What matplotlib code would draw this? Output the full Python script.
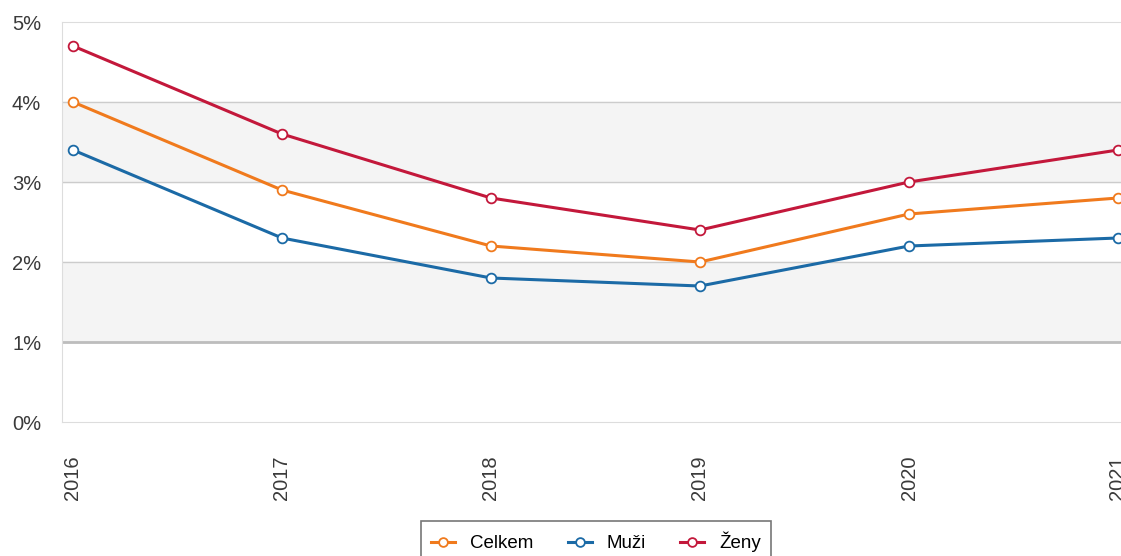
import matplotlib.pyplot as plt
from matplotlib.ticker import FuncFormatter

years = [2016, 2017, 2018, 2019, 2020, 2021]
celkem = [4.0, 2.9, 2.2, 2.0, 2.6, 2.8]
muzi = [3.4, 2.3, 1.8, 1.7, 2.2, 2.3]
zeny = [4.7, 3.6, 2.8, 2.4, 3.0, 3.4]

plt.rcParams["font.family"] = ["Liberation Sans", "DejaVu Sans"]

W, H = 1121, 556
fig = plt.figure(figsize=(W / 100, H / 100), dpi=100)
ax = fig.add_axes([62 / W, (H - 422) / H, (W - 62) / W, 400 / H])

# alternating bands
for lo in (1, 3):
    ax.axhspan(lo, lo + 1, color="#f4f4f4", zorder=0)
for v in (2, 3, 4):
    ax.axhline(v, color="#cccccc", lw=1, zorder=1)
ax.axhline(1, color="#bdbdbd", lw=2, zorder=1)

series = [("Celkem", celkem, "#f07a1d"),
          ("Muži", muzi, "#1b6aa6"),
          ("Ženy", zeny, "#c3183b")]
for name, vals, col in series:
    ax.plot(years, vals, color=col, lw=2.2, marker="o", ms=7,
            mfc="white", mec=col, mew=1.3, label=name, zorder=3,
            clip_on=False)

ax.set_xlim(2016 - 11 / 209, 2021 + 3 / 209)
ax.set_ylim(0, 5)
ax.set_yticks([0, 1, 2, 3, 4, 5])
ax.yaxis.set_major_formatter(FuncFormatter(lambda v, p: f"{v:.0f}%"))
ax.set_xticks(years)
ax.set_xticklabels([str(y) for y in years], rotation=90)
ax.tick_params(length=0, labelsize=14.5, colors="#3a3a3a")
ax.tick_params(axis="y", pad=15)
ax.tick_params(axis="x", pad=24)

for s in ("left", "bottom", "top"):
    ax.spines[s].set_color("#dddddd")
ax.spines["right"].set_visible(False)

leg = fig.legend(loc="upper center", bbox_to_anchor=(596 / W, 1 - 512 / H),
                 ncol=3, frameon=True, fancybox=False, fontsize=13.5,
                 edgecolor="#555555", handlelength=1.3, columnspacing=1.8,
                 borderpad=0.55, markerscale=0.9)
leg.get_frame().set_linewidth(1.2)

fig.savefig("out.png", dpi=100)
